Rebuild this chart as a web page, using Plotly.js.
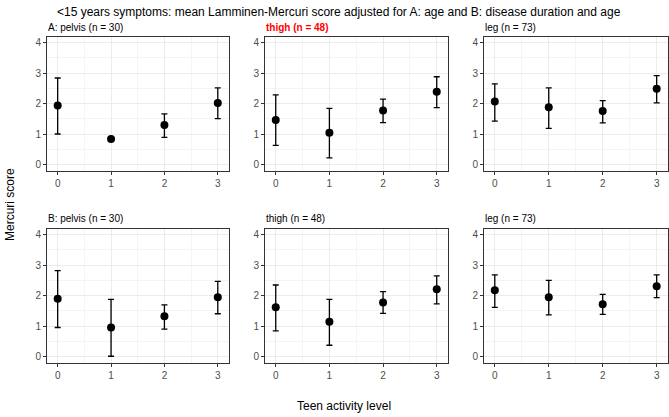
<!DOCTYPE html>
<html>
<head>
<meta charset="utf-8">
<script src="https://cdn.plot.ly/plotly-3.0.1.min.js"></script>
<style>
  html, body { margin: 0; padding: 0; background: #fff; }
  #chart { width: 669px; height: 417px; }
</style>
</head>
<body>
<div id="chart"></div>
<script>
// Data
const activityLevels = [0, 1, 2, 3];
const panelTitles = ['A: pelvis (n = 30)', 'thigh (n = 48)', 'leg (n = 73)',
                     'B: pelvis (n = 30)', 'thigh (n = 48)', 'leg (n = 73)'];

// A: adjusted for age
const pelvisA = [1.94, 0.85, 1.30, 2.02];
const pelvisALow = [1.01, null, 0.90, 1.51];
const pelvisAHigh = [2.84, null, 1.67, 2.52];
const thighA = [1.47, 1.05, 1.78, 2.39];
const thighALow = [0.64, 0.23, 1.38, 1.87];
const thighAHigh = [2.29, 1.85, 2.15, 2.88];
const legA = [2.07, 1.88, 1.76, 2.49];
const legALow = [1.43, 1.19, 1.37, 2.03];
const legAHigh = [2.65, 2.52, 2.10, 2.92];

// B: adjusted for disease duration and age
const pelvisB = [1.90, 0.96, 1.33, 1.95];
const pelvisBLow = [0.96, 0.02, 0.91, 1.41];
const pelvisBHigh = [2.82, 1.88, 1.70, 2.47];
const thighB = [1.62, 1.15, 1.78, 2.21];
const thighBLow = [0.85, 0.38, 1.42, 1.73];
const thighBHigh = [2.35, 1.88, 2.13, 2.65];
const legB = [2.18, 1.95, 1.72, 2.31];
const legBLow = [1.62, 1.37, 1.39, 1.94];
const legBHigh = [2.68, 2.50, 2.04, 2.68];

const W = 669, H = 417;
const px = v => v / W;          // pixel -> paper x
const py = v => 1 - v / H;      // pixel -> paper y

const font = 'Liberation Sans, Arial, sans-serif';

// Panel geometry (pixels)
const colEdges = [[47, 229], [265, 448], [484, 668]];
const rowEdges = [[37, 171], [229, 363]];

const series = [
    [pelvisA, pelvisALow, pelvisAHigh],
    [thighA, thighALow, thighAHigh],
    [legA, legALow, legAHigh],
    [pelvisB, pelvisBLow, pelvisBHigh],
    [thighB, thighBLow, thighBHigh],
    [legB, legBLow, legBHigh]
];

const data = [];
const layout = {
    width: W,
    height: H,
    margin: {l: 0, r: 0, t: 0, b: 0},
    paper_bgcolor: '#ffffff',
    plot_bgcolor: '#ffffff',
    showlegend: false,
    font: {family: font, color: '#000'},
    annotations: []
};

series.forEach((s, i) => {
    const [mean, low, high] = s;
    const n = i + 1;
    const suffix = n === 1 ? '' : String(n);
    data.push({
        x: activityLevels,
        y: mean,
        type: 'scatter',
        mode: 'markers',
        xaxis: 'x' + suffix,
        yaxis: 'y' + suffix,
        marker: {color: '#000', size: 8},
        error_y: {
            type: 'data',
            symmetric: false,
            array: mean.map((m, k) => high[k] == null ? null : high[k] - m),
            arrayminus: mean.map((m, k) => low[k] == null ? null : m - low[k]),
            color: '#000',
            thickness: 1.3,
            width: 3
        },
        hoverinfo: 'skip'
    });

    const col = i % 3, row = Math.floor(i / 3);
    const [x0, x1] = colEdges[col];
    const [y0, y1] = rowEdges[row];

    const axisCommon = {
        showline: true,
        mirror: true,
        linecolor: '#333333',
        linewidth: 1,
        ticks: 'outside',
        ticklen: 3,
        tickcolor: '#333333',
        tickfont: {family: font, size: 10, color: '#4d4d4d'},
        showgrid: true,
        gridcolor: '#ebebeb',
        gridwidth: 1,
        zeroline: false,
        fixedrange: true
    };

    layout['xaxis' + suffix] = Object.assign({}, axisCommon, {
        domain: [px(x0), px(x1)],
        anchor: 'y' + suffix,
        range: [-0.2, 3.21],
        tickvals: activityLevels,
        minor: {dtick: 0.5, tick0: 0.5, showgrid: true, gridcolor: '#f4f4f4', gridwidth: 1}
    });
    layout['yaxis' + suffix] = Object.assign({}, axisCommon, {
        domain: [py(y1), py(y0)],
        anchor: 'x' + suffix,
        range: [-0.2, 4.18],
        tickvals: [0, 1, 2, 3, 4],
        minor: {dtick: 0.5, tick0: 0.5, showgrid: true, gridcolor: '#f4f4f4', gridwidth: 1}
    });

    const red = i === 1;
    layout.annotations.push({
        text: red ? '<b>' + panelTitles[i] + '</b>' : panelTitles[i],
        xref: 'paper', yref: 'paper',
        x: px(x0 - 1), y: py(y0 - 10),
        xanchor: 'left', yanchor: 'middle',
        showarrow: false,
        font: {family: font, size: 10, color: red ? '#ff0000' : '#000'}
    });
});

// Overall title and axis titles
layout.annotations.push({
    text: '<15 years symptoms: mean Lamminen-Mercuri score adjusted for A: age and B: disease duration and age',
    xref: 'paper', yref: 'paper',
    x: px(55), y: py(12),
    xanchor: 'left', yanchor: 'middle',
    showarrow: false,
    font: {family: font, size: 12, color: '#000'}
});
layout.annotations.push({
    text: 'Mercuri score',
    xref: 'paper', yref: 'paper',
    x: px(10), y: py(205),
    xanchor: 'center', yanchor: 'middle',
    textangle: -90,
    showarrow: false,
    font: {family: font, size: 12, color: '#000'}
});
layout.annotations.push({
    text: 'Teen activity level',
    xref: 'paper', yref: 'paper',
    x: px(344), y: py(406),
    xanchor: 'center', yanchor: 'middle',
    showarrow: false,
    font: {family: font, size: 12, color: '#000'}
});

Plotly.newPlot('chart', data, layout, {staticPlot: true, displayModeBar: false});
</script>
</body>
</html>
